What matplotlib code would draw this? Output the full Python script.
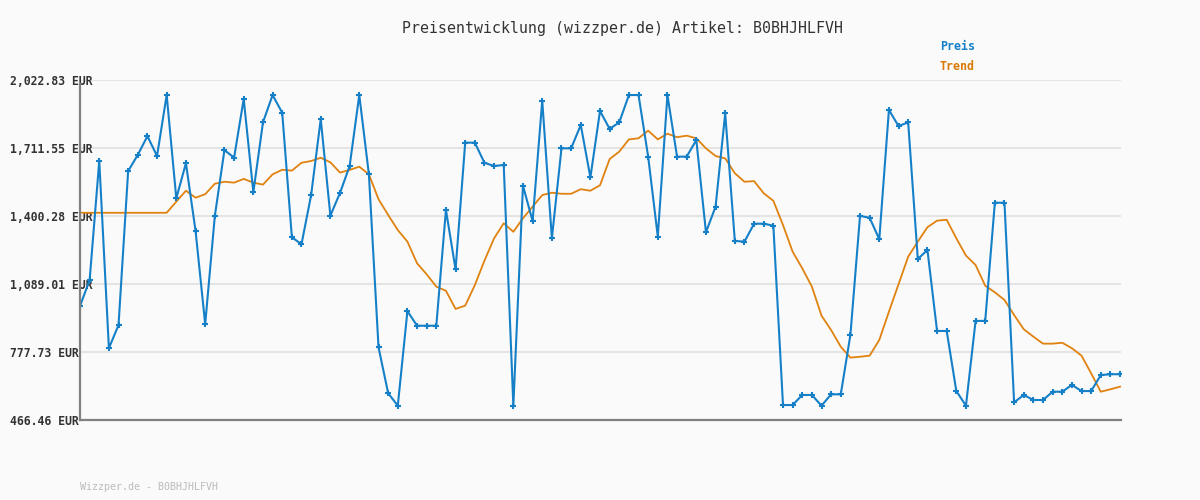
import matplotlib
matplotlib.use("Agg")
import matplotlib.pyplot as plt
import numpy as np

# values (EUR)
preis = [988, 1107, 1652, 795, 901, 1606, 1680, 1766, 1675, 1954,
         1481, 1642, 1332, 905, 1400, 1702, 1667, 1936, 1509, 1829,
         1954, 1873, 1303, 1271, 1496, 1844, 1402, 1506, 1629, 1954,
         1591, 799, 589, 532, 965, 898, 898, 898, 1428, 1156,
         1736, 1736, 1644, 1629, 1634, 532, 1539, 1377, 1928, 1298,
         1710, 1710, 1817, 1577, 1881, 1799, 1829, 1954, 1954, 1672,
         1306, 1954, 1672, 1672, 1748, 1326, 1443, 1870, 1286, 1283,
         1365, 1365, 1356, 535, 535, 581, 581, 532, 584, 584,
         856, 1401, 1392, 1294, 1886, 1812, 1829, 1203, 1245, 874,
         874, 599, 532, 920, 920, 1461, 1461, 547, 581, 558,
         558, 596, 596, 627, 599, 599, 672, 676, 676]

trend = [1415, 1415, 1415, 1415, 1415, 1415, 1415, 1415, 1415, 1415,
         1466, 1516, 1484, 1500, 1548, 1557, 1553, 1570, 1553, 1544,
         1591, 1612, 1608, 1644, 1652, 1667, 1646, 1599, 1611, 1626,
         1591, 1477, 1405, 1336, 1283, 1184, 1133, 1077, 1058, 975,
         990, 1084, 1196, 1298, 1367, 1328, 1390, 1443, 1496, 1507,
         1502, 1502, 1523, 1516, 1541, 1661, 1695, 1751, 1756, 1791,
         1751, 1777, 1761, 1768, 1756, 1710, 1675, 1664, 1596, 1557,
         1560, 1504, 1470, 1359, 1237, 1161, 1077, 944, 878, 802,
         752, 756, 761, 833, 962, 1088, 1214, 1283, 1349, 1379,
         1383, 1298, 1219, 1176, 1081, 1051, 1016, 947, 882, 848,
         816, 816, 820, 795, 761, 680, 596, 607, 619]

yticks = [466.46, 777.73, 1089.01, 1400.28, 1711.55, 2022.83]
ytick_labels = ["466.46 EUR", "777.73 EUR", "1,089.01 EUR",
                "1,400.28 EUR", "1,711.55 EUR", "2,022.83 EUR"]

title = "Preisentwicklung (wizzper.de) Artikel: B0BHJHLFVH"
footer = "Wizzper.de - B0BHJHLFVH"

bg = "#fafafa"
blue = "#1580c8"
orange = "#e0820f"
mono = "DejaVu Sans Mono"

fig = plt.figure(figsize=(12, 5), dpi=100, facecolor=bg)
ax = fig.add_axes([80 / 1200, 1 - 420 / 500, 1041 / 1200, 340 / 500])
ax.set_facecolor(bg)

x = np.arange(len(preis))
ax.plot(x, trend, color=orange, lw=1.3, zorder=3)
ax.plot(x, preis, color=blue, lw=1.5, marker="+", ms=3.8, mew=1.5, zorder=4)

ax.set_xlim(0, len(preis) - 1 + 0.1)
ax.set_ylim(yticks[0], yticks[-1])
ax.set_xticks([])
ax.set_yticks(yticks)
ax.set_yticklabels(ytick_labels, fontfamily=mono, fontweight="bold",
                   fontsize=8.3, color="#333333")
ax.tick_params(axis="y", length=0, pad=50.4)
for lbl in ax.get_yticklabels():
    lbl.set_horizontalalignment("left")
ax.grid(axis="y", color="#e4e4e4", lw=1.5, zorder=0)

for s in ["top", "right"]:
    ax.spines[s].set_visible(False)
for s in ["left", "bottom"]:
    ax.spines[s].set_color("#808080")
    ax.spines[s].set_linewidth(1.6)
    ax.spines[s].set_zorder(5)
ax.spines["left"].set_bounds(yticks[0], 2004)

fig.text(623 / 1200, 1 - 28 / 500, title, ha="center", va="center",
         fontfamily=mono, fontsize=10.7, color="#333333")
fig.text(940 / 1200, 1 - 47 / 500, "Preis", ha="left", va="center",
         fontfamily=mono, fontweight="bold", fontsize=8.4, color=blue)
fig.text(940 / 1200, 1 - 67 / 500, "Trend", ha="left", va="center",
         fontfamily=mono, fontweight="bold", fontsize=8.4, color="#d97a06")
fig.text(80 / 1200, 1 - 487 / 500, footer, ha="left", va="center",
         fontfamily=mono, fontsize=7.2, color="#bbbbbb")

fig.savefig("out.png", dpi=100, facecolor=bg)
